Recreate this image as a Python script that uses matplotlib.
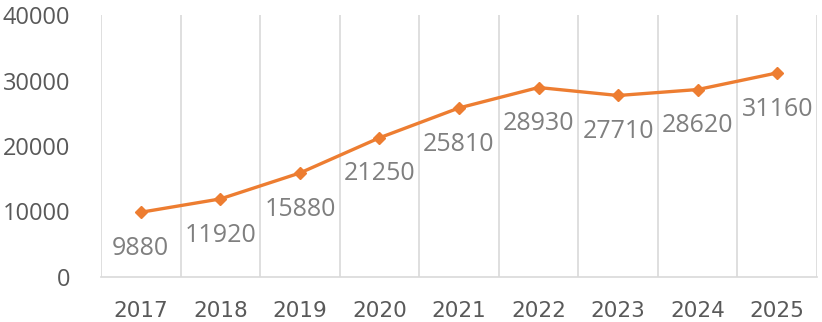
import matplotlib
matplotlib.use("Agg")
import matplotlib.pyplot as plt

years = ["2017", "2018", "2019", "2020", "2021", "2022", "2023", "2024", "2025"]
values = [9880, 11920, 15880, 21250, 25810, 28930, 27710, 28620, 31160]
y_ticks = [0, 10000, 20000, 30000, 40000]

plt.rcParams["font.family"] = ["Open Sans", "DejaVu Sans"]

fig = plt.figure(figsize=(8.22, 3.22), dpi=100)
ax = fig.add_axes([101 / 822, 1 - 277 / 322, 716 / 822, 262 / 322])

x = list(range(len(years)))
ax.plot(x, values, color="#ED7D31", linewidth=2.4, marker="D", markersize=6.5,
        markeredgecolor="#ED7D31", markerfacecolor="#ED7D31", zorder=3)

for xi, v in zip(x, values):
    ax.annotate(str(v), (xi, v), xytext=(0, -26), textcoords="offset points",
                ha="center", va="center", fontsize=18, color="#7F7F7F")

ax.set_xlim(-0.5, len(years) - 0.5)
ax.set_ylim(0, 40000)
ax.set_yticks(y_ticks)
ax.set_xticks(x)
ax.set_xticklabels(years, family=["DejaVu Sans"], fontsize=15.5)

# category boundary gridlines
for b in [i - 0.5 for i in range(len(years) + 1)]:
    ax.axvline(b, color="#D9D9D9", linewidth=1.2, zorder=1)

for s in ["top", "right", "left"]:
    ax.spines[s].set_visible(False)
ax.spines["bottom"].set_color("#D9D9D9")
ax.spines["bottom"].set_linewidth(1.2)

ax.tick_params(axis="both", length=0, labelcolor="#595959")
ax.tick_params(axis="y", pad=22, labelsize=17)
ax.tick_params(axis="x", pad=17)

fig.savefig("out.png", dpi=100)
